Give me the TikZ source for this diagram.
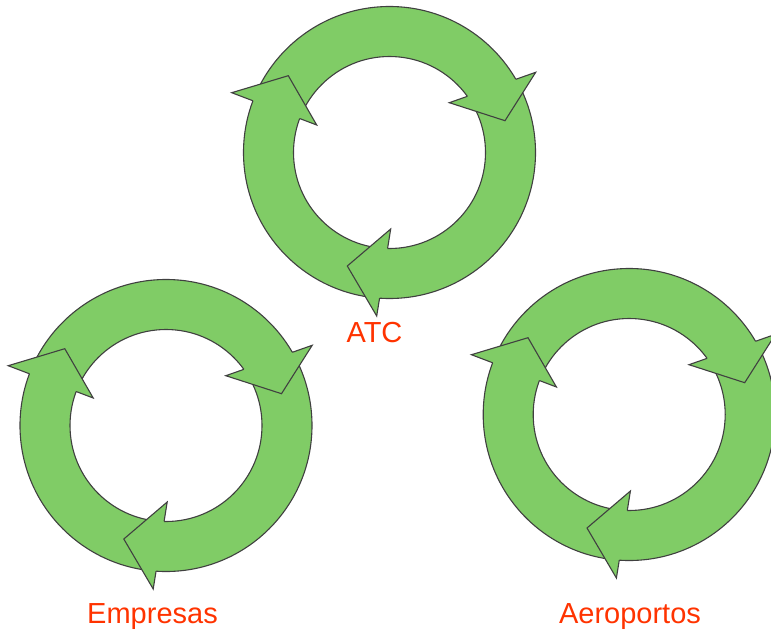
\documentclass[tikz,border=0pt]{standalone}
\usepackage{fontspec}
\setmainfont{Liberation Sans}
\definecolor{ringgreen}{RGB}{128,204,102}
\definecolor{ringline}{RGB}{64,64,64}
\definecolor{labelred}{RGB}{255,51,0}
\tikzset{
  ringfill/.style={fill=ringgreen},
  ringedge/.style={draw=ringline, line width=1.1pt, line join=miter},
  ringlabel/.style={text=labelred, anchor=base, inner sep=0pt, font=\fontsize{29pt}{35pt}\selectfont}
}
% one arrowhead: notch out, barb out, tip, barb in, notch in
\newcommand{\ringhead}[5]{%
  \fill[ringfill] #1 -- #2 -- #3 -- #4 -- #5 -- cycle;
  \draw[ringedge] #1 -- #2 -- #3 -- #4 -- #5;
}
\newcommand{\cyclering}[2]{%
  \begin{scope}[shift={(#1,#2)}]
    \fill[ringfill, even odd rule] (0,0) circle[radius=146pt] (0,0) circle[radius=96pt];
    \draw[ringedge] (0,0) circle[radius=146pt];
    \draw[ringedge] (0,0) circle[radius=96pt];
    \ringhead{(-136.5,-51.7)}{(-157.8,-59.8)}{(-101.2,-76.8)}{(-72.8,-27.5)}{(-89.8,-33.96)}
    \ringhead{(126.3,-73.2)}{(146.2,-80.2)}{(115.5,-31.8)}{(59.8,-49.8)}{(77.87,-56.16)}
    \ringhead{(-9.93,145.66)}{(-12.8,163.5)}{(-42.2,113.5)}{(1.2,76.5)}{(-1.93,95.98)}
  \end{scope}%
}
\begin{document}
\begin{tikzpicture}[x=1pt, y=-1pt]
  \useasboundingbox (0,0) rectangle (771,632);
  \clip (0,0) rectangle (771,632);
  \cyclering{389.5}{152.5}
  \cyclering{166}{425.5}
  \cyclering{629.2}{414.5}
  \node[ringlabel] (atc) at (374.5,342) {ATC};
  \node[ringlabel] (empresas) at (152.5,623.5) {Empresas};
  \node[ringlabel] (aeroportos) at (630,623.5) {Aeroportos};
\end{tikzpicture}
\end{document}
